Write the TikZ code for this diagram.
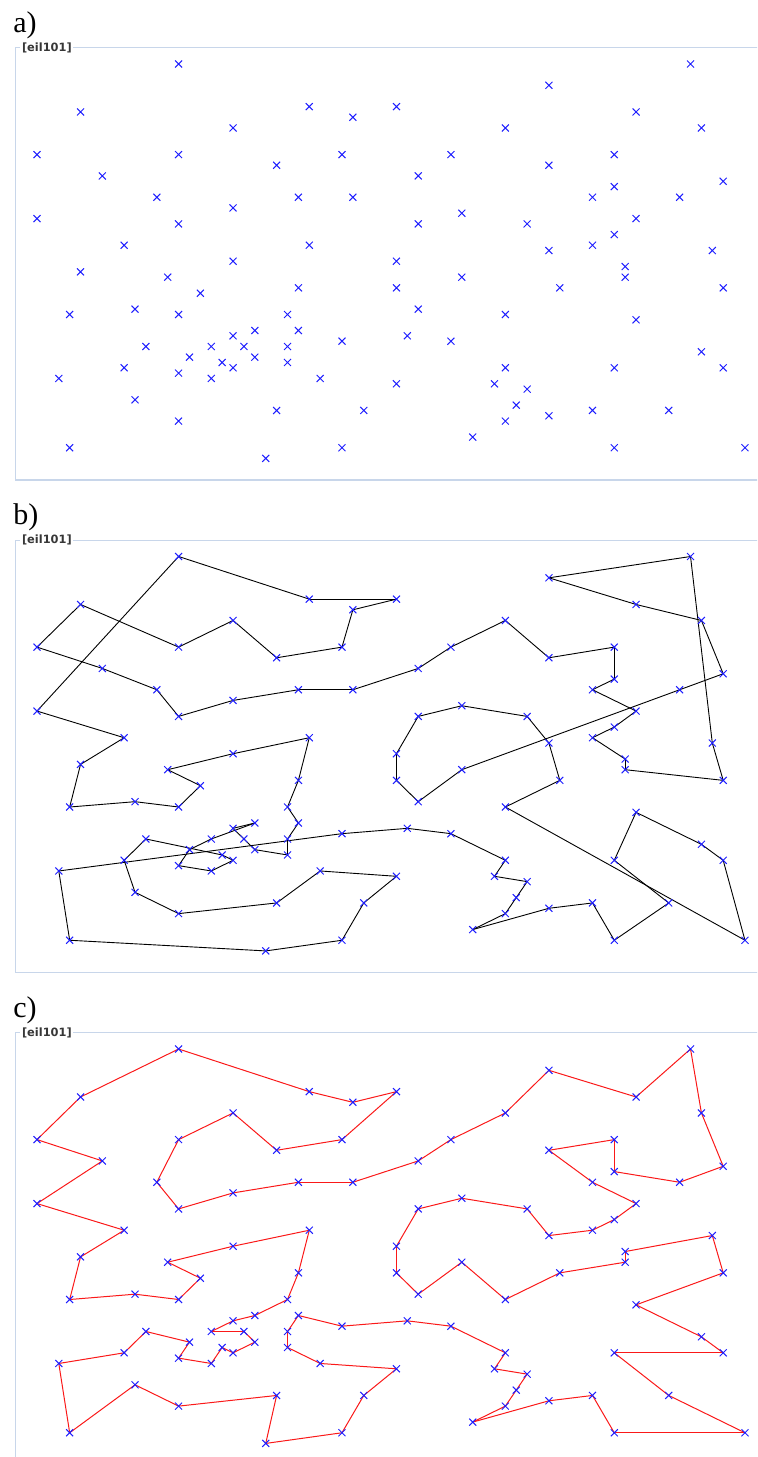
\documentclass[tikz,border=0pt]{standalone}
\usepackage{fontspec}
\setmainfont{Liberation Serif}
\newfontfamily\tagfont{DejaVu Sans}
\usetikzlibrary{shapes.misc}

\definecolor{siteblue}{RGB}{30,30,255}
\definecolor{framegray}{RGB}{200,214,234}
\definecolor{tagtext}{RGB}{55,55,55}
\definecolor{tourred}{RGB}{250,25,25}

\newcommand{\eilsites}{1/41/49, 2/35/17, 3/55/45, 4/55/20, 5/15/30, 6/25/30, 7/20/50, 8/10/43, 9/55/60, 10/30/60,
  11/20/65, 12/50/35, 13/30/25, 14/15/10, 15/30/5, 16/10/20, 17/5/30, 18/20/40, 19/15/60, 20/45/65,
  21/45/20, 22/45/10, 23/55/5, 24/65/35, 25/65/20, 26/45/30, 27/35/40, 28/41/37, 29/64/42, 30/40/60,
  31/31/52, 32/35/69, 33/53/52, 34/65/55, 35/63/65, 36/2/60, 37/20/20, 38/5/5, 39/60/12, 40/40/25,
  41/42/7, 42/24/12, 43/23/3, 44/11/14, 45/6/38, 46/2/48, 47/8/56, 48/13/52, 49/6/68, 50/47/47,
  51/49/58, 52/27/43, 53/37/31, 54/57/29, 55/63/23, 56/53/12, 57/32/12, 58/36/26, 59/21/24, 60/17/34,
  61/12/24, 62/24/58, 63/27/69, 64/15/77, 65/62/77, 66/49/73, 67/67/5, 68/56/39, 69/37/47, 70/37/56,
  71/57/68, 72/47/16, 73/44/17, 74/46/13, 75/49/11, 76/49/42, 77/53/43, 78/61/52, 79/57/48, 80/56/37,
  81/55/54, 82/15/47, 83/14/37, 84/11/31, 85/16/22, 86/4/18, 87/28/18, 88/26/52, 89/26/35, 90/31/67,
  91/15/19, 92/22/22, 93/18/24, 94/26/27, 95/25/24, 96/22/27, 97/25/21, 98/19/21, 99/20/26, 100/18/18,
  101/35/35}

\newcommand{\tourb}{28,53,101,27,69,1,50,76,12,26,67,25,55,54,4,39,23,56,75,41,22,74,72,73,21,40,58,13,86,38,
  43,15,57,2,87,42,14,44,16,61,98,37,100,91,85,93,96,99,59,92,97,95,94,6,89,52,18,83,60,5,84,17,45,8,46,
  64,63,32,90,10,62,11,19,49,36,47,48,82,7,88,31,70,30,20,51,9,81,33,79,3,77,68,80,24,29,65,66,71,35,34,78}

\newcommand{\tourc}{27,101,53,28,26,12,80,68,29,24,54,55,25,4,39,67,23,56,75,41,22,74,72,73,21,40,58,13,94,95,
  97,87,2,57,15,43,42,14,44,38,86,16,61,85,91,100,98,37,92,59,93,99,96,6,89,52,18,83,60,5,84,17,45,8,46,
  47,36,49,64,63,90,32,10,62,11,19,48,82,7,88,31,70,30,20,66,71,65,35,34,78,81,9,51,33,79,3,77,76,50,1,69}

\begin{document}
\begin{tikzpicture}[x=0.5pt, y=-0.5pt,
  site/.style={cross out, draw=siteblue, line width=0.5pt, minimum size=3pt, inner sep=0pt},
  panelframe/.style={draw=framegray, line width=0.6pt},
  paneltag/.style={fill=white, inner sep=0.8pt, anchor=west, text=tagtext,
    font=\tagfont\bfseries\fontsize{5.7}{6}\selectfont},
  panelletter/.style={anchor=base west, inner sep=0pt, font=\fontsize{15}{18}\selectfont},
  blackleg/.style={draw=black, line width=0.45pt},
  redleg/.style={draw=tourred, line width=0.5pt}]

\useasboundingbox (0,0) rectangle (757,1457);
\clip (0,0) rectangle (757,1457);

\draw[panelframe] (15.5,47.7) rectangle (790,480);
\node[paneltag] (atag) at (20,47.7) {[eil101]};
\node[panelletter] (aletter) at (13,32) {a)};

\draw[panelframe] (15.5,540.2) rectangle (790,972.5);
\node[paneltag] (btag) at (20,540.2) {[eil101]};
\node[panelletter] (bletter) at (13,524.5) {b)};

\draw[panelframe] (15.5,1032.7) rectangle (790,1465);
\node[paneltag] (ctag) at (20,1032.7) {[eil101]};
\node[panelletter] (cletter) at (13,1017) {c)};

\begin{scope}[shift={(15.216,474.4)}, x=5.446pt, y=2.665pt, name prefix=a-]
  \foreach \n/\x/\y in \eilsites {\coordinate (p\n) at (\x,\y);}
  \foreach \n in {1,...,101} {\node[site] (s\n) at (p\n) {};}
\end{scope}

\begin{scope}[shift={(15.216,966.9)}, x=5.446pt, y=2.665pt, name prefix=b-]
  \foreach \n/\x/\y in \eilsites {\coordinate (p\n) at (\x,\y);}
  \foreach \i [remember=\i as \j (initially 78)] in \tourb {\draw[blackleg] (p\j) -- (p\i);}
  \foreach \n in {1,...,101} {\node[site] (s\n) at (p\n) {};}
\end{scope}

\begin{scope}[shift={(15.216,1459.4)}, x=5.446pt, y=2.665pt, name prefix=c-]
  \foreach \n/\x/\y in \eilsites {\coordinate (p\n) at (\x,\y);}
  \foreach \i [remember=\i as \j (initially 69)] in \tourc {\draw[redleg] (p\j) -- (p\i);}
  \foreach \n in {1,...,101} {\node[site] (s\n) at (p\n) {};}
\end{scope}

\end{tikzpicture}
\end{document}
